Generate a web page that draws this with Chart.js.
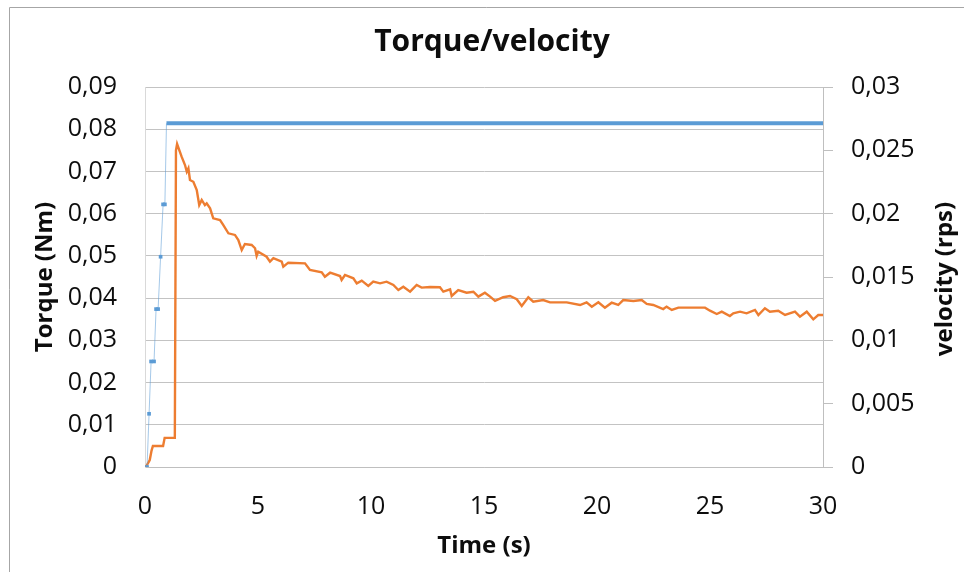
<!DOCTYPE html>
<html>
<head>
<meta charset="utf-8">
<title>Torque/velocity</title>
<script src="https://cdn.jsdelivr.net/npm/chart.js@4.4.1/dist/chart.umd.min.js"></script>
<style>
  html, body { margin: 0; padding: 0; background: #ffffff; }
  #chart { display: block; }
</style>
</head>
<body>
<canvas id="chart" width="964" height="572"></canvas>
<script>
// Torque step input (Nm) against time (s)
const torqueTime  = [0.09, 0.18, 0.27, 0.40, 0.49, 0.58, 0.69, 0.80, 0.88, 0.95, 30];
const torqueValue = [0, 0.0126, 0.025, 0.025, 0.0374, 0.0374, 0.0498, 0.0622, 0.0622, 0.0814, 0.0814];

// Measured velocity (rps) against time (s)
const velocityTime = [
  0, 0.07, 0.21, 0.29, 0.35, 0.80, 0.87, 1.32, 1.37, 1.42,
  1.62, 1.77, 1.85, 1.92, 1.99, 2.14, 2.29, 2.40, 2.51, 2.65,
  2.73, 2.88, 3.02, 3.32, 3.46, 3.69, 3.98, 4.13, 4.28, 4.42,
  4.72, 4.87, 4.94, 5.01, 5.38, 5.53, 5.68, 6.05, 6.12, 6.34,
  7.08, 7.30, 7.82, 7.96, 8.19, 8.63, 8.70, 8.85, 9.22, 9.37,
  9.59, 9.88, 10.10, 10.40, 10.69, 10.99, 11.21, 11.43, 11.73, 12.02,
  12.24, 12.61, 13.05, 13.20, 13.50, 13.57, 13.86, 14.23, 14.53, 14.75,
  15.04, 15.27, 15.49, 15.85, 16.15, 16.45, 16.67, 16.96, 17.18, 17.62,
  17.92, 18.66, 19.25, 19.54, 19.77, 20.06, 20.35, 20.65, 20.94, 21.16,
  21.61, 21.98, 22.20, 22.49, 22.93, 23.08, 23.31, 23.60, 24.78, 25.00,
  25.30, 25.52, 25.88, 26.03, 26.33, 26.62, 26.99, 27.14, 27.43, 27.65,
  28.02, 28.32, 28.76, 28.98, 29.28, 29.57, 29.79, 30.00
];
const velocityValue = [
  0, 0.0001, 0.00055, 0.0013, 0.00166, 0.00166, 0.0023, 0.0023, 0.0250, 0.0255,
  0.0245, 0.02384, 0.02331, 0.02358, 0.02266, 0.02252, 0.02187, 0.02068, 0.02108, 0.02068,
  0.02082, 0.02042, 0.01963, 0.01950, 0.01911, 0.01845, 0.01832, 0.01792, 0.01713, 0.01761,
  0.01753, 0.01727, 0.01666, 0.01700, 0.01660, 0.01621, 0.01648, 0.01621, 0.01581, 0.01613,
  0.01608, 0.01555, 0.01537, 0.01502, 0.01534, 0.01508, 0.01476, 0.01516, 0.01490, 0.01450,
  0.01471, 0.01429, 0.01463, 0.01450, 0.01463, 0.01437, 0.01397, 0.01423, 0.01384, 0.01437,
  0.01416, 0.01421, 0.01419, 0.01384, 0.01403, 0.01350, 0.01397, 0.01376, 0.01384, 0.01345,
  0.01376, 0.01345, 0.01311, 0.01340, 0.01350, 0.01324, 0.01271, 0.01340, 0.01305, 0.01318,
  0.01300, 0.01300, 0.01279, 0.01300, 0.01266, 0.01300, 0.01258, 0.01297, 0.01279, 0.01318,
  0.01311, 0.01318, 0.01287, 0.01279, 0.01247, 0.01266, 0.01240, 0.01258, 0.01258, 0.01234,
  0.01208, 0.01226, 0.01192, 0.01213, 0.01226, 0.01213, 0.01240, 0.01200, 0.01253, 0.01226,
  0.01234, 0.01200, 0.01226, 0.01187, 0.01226, 0.01166, 0.01200, 0.01200
];

// Axis tick labels (decimal comma)
const timeTickLabels     = ['0', '5', '10', '15', '20', '25', '30'];
const torqueTickLabels   = ['0', '0,01', '0,02', '0,03', '0,04', '0,05', '0,06', '0,07', '0,08', '0,09'];
const velocityTickLabels = ['0', '0,005', '0,01', '0,015', '0,02', '0,025', '0,03'];

const torquePoints   = torqueTime.map((t, i) => ({ x: t, y: torqueValue[i] }));
const velocityPoints = velocityTime.map((t, i) => ({ x: t, y: velocityValue[i] }));
const holdStart = torqueValue.indexOf(Math.max(...torqueValue));

const BLUE = '#5B9BD5';
const ORANGE = '#ED7D31';
const GRID = '#c3c3c3';
const TEXT = '#0d0d0d';
const FONT = "'Open Sans', 'DejaVu Sans', sans-serif";

// Outer frame and the rotated right-hand axis title
const framePlugin = {
  id: 'frame',
  beforeDraw(chart) {
    const c = chart.ctx;
    c.save();
    c.fillStyle = '#ffffff';
    c.fillRect(0, 0, chart.width, chart.height);
    c.strokeStyle = '#a6a6a6';
    c.lineWidth = 1;
    c.beginPath();
    c.moveTo(9.5, chart.height);
    c.lineTo(9.5, 7.5);
    c.lineTo(chart.width, 7.5);
    c.stroke();
    c.restore();
  },
  afterDraw(chart) {
    const c = chart.ctx;
    const area = chart.chartArea;
    c.save();
    c.translate(945, (area.top + area.bottom) / 2 + 2);
    c.rotate(-Math.PI / 2);
    c.font = 'bold 24px ' + FONT;
    c.fillStyle = TEXT;
    c.textAlign = 'center';
    c.textBaseline = 'middle';
    c.fillText('velocity (rps)', 0, 0);
    c.restore();
  }
};

new Chart(document.getElementById('chart'), {
  type: 'scatter',
  data: {
    datasets: [
      {
        label: 'Torque',
        data: torquePoints,
        yAxisID: 'yTorque',
        showLine: true,
        borderColor: 'rgba(91,155,213,0.55)',
        borderWidth: 1,
        backgroundColor: BLUE,
        pointStyle: 'rect',
        pointBorderWidth: 0,
        pointRadius: (c) => (c.dataIndex < holdStart ? 2.6 : 0),
        pointHoverRadius: 0,
        segment: {
          borderWidth: (c) => (c.p0DataIndex >= holdStart ? 4 : 1),
          borderColor: (c) => (c.p0DataIndex >= holdStart ? BLUE : 'rgba(91,155,213,0.55)')
        },
        order: 1
      },
      {
        label: 'Velocity',
        data: velocityPoints,
        yAxisID: 'yVelocity',
        showLine: true,
        borderColor: ORANGE,
        borderWidth: 2.4,
        pointRadius: 0,
        pointHoverRadius: 0,
        tension: 0,
        order: 2
      }
    ]
  },
  options: {
    responsive: false,
    animation: false,
    devicePixelRatio: 1,
    layout: { padding: { left: 20, right: 0, top: 0, bottom: 0 } },
    plugins: {
      legend: { display: false },
      tooltip: { enabled: false },
      title: {
        display: true,
        text: 'Torque/velocity',
        color: TEXT,
        font: { family: FONT, size: 30, weight: 'bold' },
        padding: { top: 24, bottom: 27 }
      }
    },
    scales: {
      x: {
        type: 'linear',
        position: 'bottom',
        min: 0,
        max: 30,
        afterFit: (s) => { s.height = 105; },
        ticks: {
          stepSize: 5,
          padding: 25,
          color: TEXT,
          font: { family: FONT, size: 25 },
          maxRotation: 0,
          callback: (v, i) => timeTickLabels[i]
        },
        grid: { display: false, drawTicks: false },
        border: { display: true, color: '#bfbfbf', width: 1 },
        title: {
          display: true,
          text: 'Time (s)',
          color: TEXT,
          font: { family: FONT, size: 24, weight: 'bold' },
          padding: { top: 0, bottom: 11 }
        }
      },
      yTorque: {
        type: 'linear',
        position: 'left',
        min: 0,
        max: 0.09,
        afterFit: (s) => { s.width = 125; },
        ticks: {
          stepSize: 0.01,
          padding: 28,
          color: TEXT,
          font: { family: FONT, size: 25 },
          callback: (v, i) => torqueTickLabels[i]
        },
        grid: { color: GRID, lineWidth: 1, drawTicks: false },
        border: { display: true, color: '#d9d9d9', width: 1 },
        title: {
          display: true,
          text: 'Torque (Nm)',
          color: TEXT,
          font: { family: FONT, size: 24, weight: 'bold' },
          padding: { top: 11, bottom: 0 }
        }
      },
      yVelocity: {
        type: 'linear',
        position: 'right',
        min: 0,
        max: 0.03,
        afterFit: (s) => { s.width = 141; },
        ticks: {
          stepSize: 0.005,
          padding: 18,
          color: TEXT,
          font: { family: FONT, size: 25 },
          callback: (v, i) => velocityTickLabels[i]
        },
        grid: { drawOnChartArea: false, drawTicks: true, tickLength: 10, color: '#bfbfbf' },
        border: { display: true, color: '#bfbfbf', width: 1 }
      }
    }
  },
  plugins: [framePlugin]
});
</script>
</body>
</html>
